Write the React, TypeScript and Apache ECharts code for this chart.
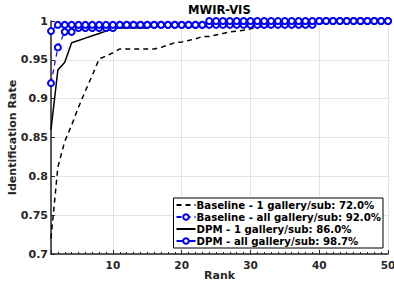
import React, { useEffect, useRef } from "react";
import * as echarts from "echarts";

const ranks = [1,2,3,4,5,6,7,8,9,10,11,12,13,14,15,16,17,18,19,20,21,22,23,24,25,26,27,28,29,30,31,32,33,34,35,36,37,38,39,40,41,42,43,44,45,46,47,48,49,50];

const baseline1 = [0.72,0.812,0.845,0.866,0.889,0.91,0.93,0.951,0.955,0.959,0.964,0.964,0.964,0.964,0.964,0.964,0.966,0.969,0.972,0.973,0.975,0.977,0.98,0.98,0.982,0.984,0.986,0.987,0.988,0.99,0.992,0.993,0.993,0.993,0.995,0.995,0.995,0.995,0.995,0.995,1,1,1,1,1,1,1,1,1,1];

const baselineAll = [0.92,0.966,0.986,0.986,0.991,0.991,0.991,0.991,0.991,0.991,0.995,0.995,0.995,0.995,0.995,0.995,0.995,0.995,0.995,0.995,0.995,0.995,0.995,0.995,0.995,0.995,0.995,0.995,0.995,0.995,0.995,0.995,0.995,0.995,0.995,0.995,0.995,0.995,0.995,1,1,1,1,1,1,1,1,1,1,1];

const dpm1 = [0.86,0.937,0.947,0.972,0.975,0.978,0.981,0.984,0.987,0.99,0.991,0.991,0.991,0.991,0.991,0.995,0.995,0.995,0.995,0.995,0.995,0.995,0.995,0.995,0.995,0.995,0.995,0.995,0.995,0.995,1,1,1,1,1,1,1,1,1,1,1,1,1,1,1,1,1,1,1,1];

const dpmAll = [0.987,0.995,0.995,0.995,0.995,0.995,0.995,0.995,0.995,0.995,0.995,0.995,0.995,0.995,0.995,0.995,0.995,0.995,0.995,0.995,0.995,0.995,0.995,1,1,1,1,1,1,1,1,1,1,1,1,1,1,1,1,1,1,1,1,1,1,1,1,1,1,1];

const seriesNames = [
  "Baseline - 1 gallery/sub: 72.0%",
  "Baseline - all gallery/sub: 92.0%",
  "DPM - 1 gallery/sub: 86.0%",
  "DPM - all gallery/sub: 98.7%",
];

const titleText = "MWIR-VIS";
const xName = "Rank";
const yName = "Identification Rate";

const FONT = "DejaVu Sans";
const AXIS_COLOR = "#262626";

function pairs(vals: number[]) {
  return ranks.map((r, i) => [r, vals[i]]);
}

const hiddenSymbol = { color: "rgba(0,0,0,0)", borderColor: "rgba(0,0,0,0)", borderWidth: 0 };

export default function App() {
  const ref = useRef<HTMLDivElement>(null);
  useEffect(() => {
    if (!ref.current) return;
    const chart = echarts.init(ref.current, null, { renderer: "svg" });
    chart.setOption({
      animation: false,
      backgroundColor: "#fff",
      textStyle: { fontFamily: FONT },
      title: {
        text: titleText,
        left: 188,
        top: 4,
        padding: 0,
        textStyle: { fontFamily: FONT, fontWeight: "bold", fontSize: 11.5, color: "#000" },
      },
      grid: { left: 51, right: 6, top: 21, bottom: 28, outerBoundsMode: "none", containLabel: false },
      legend: {
        orient: "vertical",
        right: 11,
        top: 198,
        padding: [1, 2, 1, 2],
        itemGap: 0,
        itemWidth: 19,
        itemHeight: 7,
        borderColor: "#000",
        borderWidth: 1,
        backgroundColor: "#fff",
        textStyle: { fontFamily: FONT, fontWeight: "bold", fontSize: 10.2, lineHeight: 12, color: "#000", padding: [0, 0, 0, -4] },
        data: [
          { name: seriesNames[0], itemStyle: hiddenSymbol },
          { name: seriesNames[1] },
          { name: seriesNames[2], itemStyle: hiddenSymbol },
          { name: seriesNames[3] },
        ],
      },
      xAxis: {
        type: "value",
        min: 1,
        max: 50,
        splitNumber: 5,
        name: xName,
        nameLocation: "middle",
        nameGap: 16,
        nameMoveOverlap: false,
        nameTextStyle: { fontFamily: FONT, fontWeight: "bold", fontSize: 11, color: AXIS_COLOR },
        axisLine: { show: true, lineStyle: { color: AXIS_COLOR, width: 1.5 } },
        axisTick: { show: true, inside: true, length: 4, lineStyle: { color: AXIS_COLOR, width: 1 } },
        minorTick: { show: true, splitNumber: 10, length: 2, lineStyle: { color: AXIS_COLOR, width: 1 } },
        axisLabel: {
          showMinLabel: false,
          margin: 5,
          fontFamily: FONT,
          fontWeight: "bold",
          fontSize: 10.5,
          color: AXIS_COLOR,
        },
        splitLine: { show: true, lineStyle: { color: "#e3e3e3", width: 1 } },
      },
      yAxis: {
        type: "value",
        min: 0.7,
        max: 1,
        interval: 0.05,
        name: yName,
        nameLocation: "middle",
        nameGap: 33,
        nameMoveOverlap: false,
        nameTextStyle: { fontFamily: FONT, fontWeight: "bold", fontSize: 11, color: AXIS_COLOR },
        axisLine: { show: true, lineStyle: { color: AXIS_COLOR, width: 1.5 } },
        axisTick: { show: true, inside: true, length: 4, lineStyle: { color: AXIS_COLOR, width: 1 } },
        axisLabel: {
          margin: 3,
          fontFamily: FONT,
          fontWeight: "bold",
          fontSize: 11,
          color: AXIS_COLOR,
        },
        splitLine: { show: true, lineStyle: { color: "#e3e3e3", width: 1 } },
      },
      series: [
        {
          name: seriesNames[0],
          type: "line",
          data: pairs(baseline1),
          showSymbol: false,
          symbol: "none",
          lineStyle: { color: "#000", width: 1.5, type: [5, 4] },
          itemStyle: { color: "#000" },
          z: 2,
        },
        {
          name: seriesNames[1],
          type: "line",
          data: pairs(baselineAll),
          symbol: "emptyCircle",
          symbolSize: 6,
          lineStyle: { color: "#0000ff", width: 1.2, type: [5, 4] },
          itemStyle: { color: "#0000ff", borderColor: "#0000ff", borderWidth: 1.2 },
          z: 4,
        },
        {
          name: seriesNames[2],
          type: "line",
          data: pairs(dpm1),
          symbol: "none",
          showSymbol: false,
          lineStyle: { color: "#000", width: 1.5 },
          itemStyle: { color: "#000" },
          z: 3,
        },
        {
          name: seriesNames[3],
          type: "line",
          data: pairs(dpmAll),
          symbol: "emptyCircle",
          symbolSize: 6,
          lineStyle: { color: "#0000ff", width: 1.2 },
          itemStyle: { color: "#0000ff", borderColor: "#0000ff", borderWidth: 1.2 },
          z: 5,
        },
      ],
    });
    return () => chart.dispose();
  }, []);
  return (
    <div
      ref={ref}
      style={{ position: "fixed", left: 0, top: 0, width: 394, height: 282 }}
    />
  );
}
